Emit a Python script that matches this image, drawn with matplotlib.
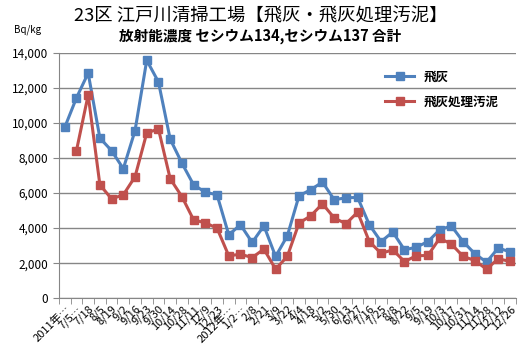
import matplotlib
matplotlib.use("Agg")
import matplotlib.pyplot as plt
from matplotlib.ticker import FuncFormatter, FixedLocator

plt.rcParams['font.family'] = ['Noto Sans CJK JP', 'DejaVu Sans']

labels = ["2011年…", "7/5…", "7/18", "8/5", "8/19", "9/2", "9/16", "9/23", "9/30",
          "10/14", "10/28", "11/11", "12/9", "12/23", "2012年…", "1/2…", "2/8", "2/21",
          "3/9", "3/22", "4/4", "4/18", "5/2", "5/30", "6/13", "6/27", "7/16", "7/25",
          "8/8", "8/22", "9/5", "9/19", "10/3", "10/17", "10/31", "11/14", "11/28",
          "12/12", "12/26"]

fly_ash = [9750, 11430, 12850, 9140, 8420, 7390, 9560, 13580, 12340, 9080, 7710,
           6470, 6050, 5900, 3620, 4190, 3180, 4130, 2380, 3560, 5850, 6190, 6630,
           5620, 5730, 5750, 4190, 3230, 3780, 2760, 2910, 3230, 3900, 4130, 3230,
           2540, 2060, 2860, 2650]

sludge = [None, 8420, 11600, 6470, 5670, 5900, 6930, 9430, 9660, 6820, 5800,
          4470, 4300, 4000, 2420, 2510, 2320, 2800, 1660, 2390, 4290, 4700, 5390,
          4580, 4250, 4910, 3230, 2560, 2760, 2090, 2420, 2440, 3420, 3090, 2390,
          2150, 1660, 2250, 2100]

blue = "#4F81BD"
red = "#C0504D"

fig = plt.figure(figsize=(5.21, 3.55), dpi=100)
ax = fig.add_axes([0.113, 0.160, 0.877, 0.691])

x = list(range(len(labels)))
sl = [float('nan') if v is None else v for v in sludge]

ax.plot(x, fly_ash, color=blue, lw=2.2, marker='s', ms=5.5, mec=blue, label="飛灰", zorder=3)
ax.plot(x, sl, color=red, lw=2.2, marker='s', ms=5.5, mec=red, label="飛灰処理汚泥", zorder=3)

ax.set_xlim(-0.5, len(labels) - 0.5)
ax.set_ylim(0, 14000)
ax.set_yticks(range(0, 14001, 2000))
ax.yaxis.set_major_formatter(FuncFormatter(lambda v, p: f"{int(v):,}"))
ax.grid(axis='y', color='#868686', lw=1)
ax.set_axisbelow(True)

ax.set_xticks(x)
ax.set_xticklabels(labels, rotation=45, ha='right', rotation_mode='anchor', fontsize=8)
ax.tick_params(axis='x', which='major', length=0, pad=4)
ax.xaxis.set_minor_locator(FixedLocator([i - 0.5 for i in range(len(labels) + 1)]))
ax.tick_params(axis='x', which='minor', length=4, color='#868686', direction='out')
ax.tick_params(axis='y', labelsize=8.5, length=4, color='#868686')

for s in ['top', 'right']:
    ax.spines[s].set_visible(False)
for s in ['left', 'bottom']:
    ax.spines[s].set_color('#868686')

ax.legend(loc='upper left', bbox_to_anchor=(0.69, 0.975), frameon=False,
          handlelength=2.3, labelspacing=1.0,
          prop={'weight': 'bold', 'size': 9})

fig.text(0.5, 0.955, "23区 江戸川清掃工場【飛灰・飛灰処理汚泥】", ha='center', va='center', fontsize=13.2)
fig.text(0.5, 0.898, "放射能濃度 セシウム134,セシウム137 合計", ha='center', va='center',
         fontsize=10.5, fontweight='bold')
fig.text(0.052, 0.915, "Bq/kg", ha='center', va='center', fontsize=7)

fig.savefig("out.png", dpi=100)
